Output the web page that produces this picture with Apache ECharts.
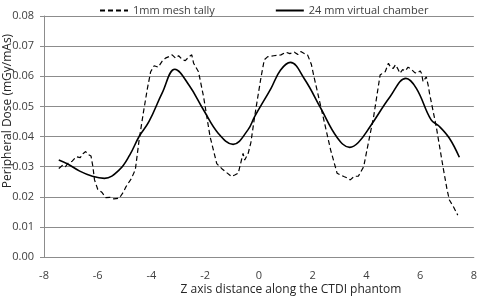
<!DOCTYPE html>
<html>
<head>
<meta charset="utf-8">
<script src="https://cdn.jsdelivr.net/npm/echarts@6/dist/echarts.min.js"></script>
<style>
  html, body { margin: 0; padding: 0; background: #fff; }
  #doseChart { width: 480px; height: 297px; }
</style>
</head>
<body>
<div id="doseChart"></div>
<script>
const xTicks = { min: -8, max: 8, step: 2 }
const yTicks = { min: 0, max: 0.08, step: 0.01 }

const meshName = '1mm mesh tally'
const chamberName = '24 mm virtual chamber'

// 1mm mesh tally (dashed)
const meshX = [-7.45, -7.3, -7.2, -7.1, -6.95, -6.8, -6.65, -6.55, -6.45, -6.35, -6.25, -6.18, -6.12, -6.0, -5.85, -5.7, -5.55, -5.4, -5.2, -5.05,
  -4.95, -4.75, -4.6, -4.46, -4.3, -4.15, -4.03, -3.9, -3.75, -3.6, -3.48, -3.35, -3.23, -3.1, -2.99, -2.85, -2.74, -2.6, -2.5, -2.43,
  -2.25, -2.06, -1.82, -1.57, -1.39, -1.2, -1.02, -0.9, -0.77, -0.65, -0.59, -0.53, -0.47, -0.4, -0.3, -0.16, 0.08, 0.2, 0.33, 0.55,
  0.82, 1.0, 1.15, 1.32, 1.45, 1.56, 1.7, 1.81, 1.95, 2.05, 2.36, 2.67, 2.91, 3.16, 3.3, 3.4, 3.55, 3.7, 3.77, 3.9,
  4.02, 4.27, 4.51, 4.6, 4.7, 4.82, 4.9, 5.0, 5.08, 5.15, 5.25, 5.35, 5.45, 5.55, 5.65, 5.8, 5.9, 6.0, 6.05, 6.11,
  6.23, 6.3, 6.35, 6.6, 6.85, 7.0, 7.09, 7.25, 7.4]
const meshY = [0.0294, 0.0305, 0.0300, 0.0312, 0.0318, 0.0333, 0.0330, 0.0343, 0.0350, 0.0340, 0.0335, 0.0300, 0.0256, 0.0225, 0.0215, 0.0197, 0.0198, 0.0193, 0.0195, 0.0215,
  0.0233, 0.0260, 0.0290, 0.0388, 0.0480, 0.0560, 0.0615, 0.0635, 0.0630, 0.0650, 0.0660, 0.0665, 0.0671, 0.0660, 0.0668, 0.0655, 0.0652, 0.0665, 0.0671, 0.0643,
  0.0615, 0.0532, 0.0400, 0.0310, 0.0294, 0.0280, 0.0267, 0.0272, 0.0278, 0.0322, 0.0344, 0.0322, 0.0316, 0.0344, 0.0380, 0.0466, 0.0598, 0.0655, 0.0665, 0.0668,
  0.0671, 0.0680, 0.0675, 0.0680, 0.0672, 0.0682, 0.0675, 0.0671, 0.0640, 0.0598, 0.0477, 0.0355, 0.0278, 0.0267, 0.0262, 0.0256, 0.0268, 0.0268, 0.0272, 0.0300,
  0.0355, 0.0466, 0.0604, 0.0610, 0.0615, 0.0643, 0.0630, 0.0626, 0.0638, 0.0628, 0.0610, 0.0622, 0.0618, 0.0630, 0.0625, 0.0612, 0.0610, 0.0618, 0.0610, 0.0582,
  0.0598, 0.0570, 0.0543, 0.0433, 0.0300, 0.0225, 0.0189, 0.0165, 0.0139]

// 24 mm virtual chamber (solid)
const chamberX = [-7.45, -7.1, -6.67, -6.2, -5.75, -5.2, -4.8, -4.46, -4.09, -3.6, -3.13, -2.6, -2.06, -1.51, -0.96, -0.41, -0.16, 0.45, 0.8, 1.17,
  1.7, 2.3, 2.91, 3.38, 3.7, 4.14, 4.88, 5.47, 5.86, 6.41, 6.72, 7.09, 7.46]
const chamberY = [0.0322, 0.0308, 0.0285, 0.0268, 0.0261, 0.0289, 0.0340, 0.0400, 0.0450, 0.0545, 0.0623, 0.0570, 0.0488, 0.0410, 0.0374, 0.0422, 0.0466, 0.0560, 0.0620, 0.0646,
  0.0590, 0.0494, 0.0397, 0.0364, 0.0380, 0.0433, 0.0532, 0.0593, 0.0560, 0.0455, 0.0433, 0.0394, 0.0331]

const pairUp = (xs, ys) => xs.map((x, i) => [x, ys[i]])

const chartDom = document.getElementById('doseChart')
const myChart = echarts.init(chartDom)
const labelColor = '#404040'
const font = 'Open Sans'

const option = {
  animation: false,
  backgroundColor: '#fff',
  grid: { left: 44, right: 1, top: 16, bottom: 40 },
  legend: {
    top: 0,
    left: 94,
    itemWidth: 28,
    itemHeight: 10,
    itemGap: 60,
    itemStyle: { opacity: 0 },
    textStyle: { color: labelColor, fontSize: 11, fontFamily: font },
    data: [meshName, chamberName]
  },
  xAxis: {
    type: 'value',
    min: xTicks.min,
    max: xTicks.max,
    interval: xTicks.step,
    axisLine: { show: true, onZero: false, lineStyle: { color: '#8c8c8c' } },
    axisTick: { show: false },
    splitLine: { show: false },
    axisLabel: { margin: 13, color: labelColor, fontSize: 11, fontFamily: font }
  },
  yAxis: {
    type: 'value',
    min: yTicks.min,
    max: yTicks.max,
    interval: yTicks.step,
    axisLine: { show: true, onZero: false, lineStyle: { color: '#8c8c8c' } },
    axisTick: { show: true, length: 4, lineStyle: { color: '#8c8c8c' } },
    splitLine: { show: true, lineStyle: { color: '#8c8c8c', width: 1 } },
    axisLabel: {
      margin: 10,
      color: labelColor,
      fontSize: 11,
      fontFamily: font,
      formatter: v => v.toFixed(2)
    }
  },
  graphic: [
    {
      type: 'text',
      x: 291,
      y: 290,
      style: {
        text: 'Z axis distance along the CTDI phantom',
        fill: '#262626',
        font: '12px "Open Sans"',
        align: 'center',
        verticalAlign: 'middle'
      }
    },
    {
      type: 'text',
      x: 8,
      y: 111,
      rotation: Math.PI / 2,
      style: {
        text: 'Peripheral Dose (mGy/mAs)',
        fill: '#262626',
        font: '12px "Open Sans"',
        align: 'center',
        verticalAlign: 'middle'
      }
    }
  ],
  series: [
    {
      name: meshName,
      type: 'line',
      symbol: 'none',
      smooth: false,
      lineStyle: { color: '#000', width: 1.2, type: [5, 3] },
      itemStyle: { color: '#000' },
      data: pairUp(meshX, meshY)
    },
    {
      name: chamberName,
      type: 'line',
      symbol: 'none',
      smooth: 0.4,
      lineStyle: { color: '#000', width: 1.6 },
      itemStyle: { color: '#000' },
      data: pairUp(chamberX, chamberY)
    }
  ]
}

option && myChart.setOption(option)
</script>
</body>
</html>
